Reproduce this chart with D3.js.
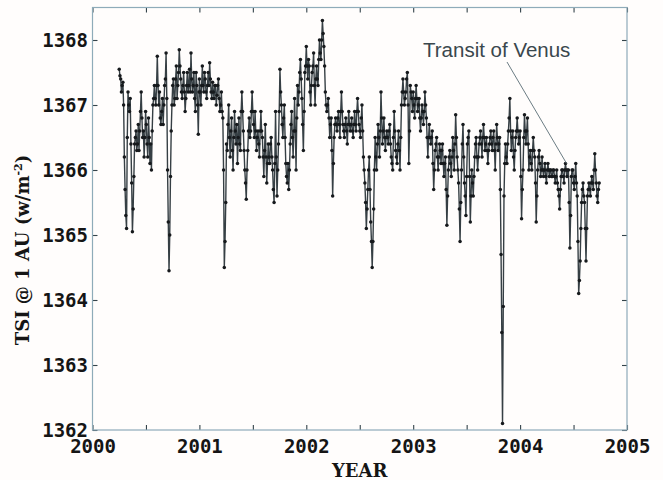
<!DOCTYPE html>
<html><head><meta charset="utf-8">
<script src="https://cdn.jsdelivr.net/npm/d3@7"></script>
<style>
body{margin:0;background:#fffdfc}
svg{display:block}
</style>
</head><body>
<svg id="chart" width="663" height="480"></svg>
<script>
// ---- data (TSI at 1 AU, W/m^2), read every 5 days; "Mid" arrays are readings 2.5 days later ----
const stepDays = 5;
const start2000 = 2000.25;
const tsi2000 = [1367.55,1367.4,1367.3,1367.0,1365.7,1365.1,1367.2,1366.9,1366.4,1365.05,
  1365.9,1366.5,1366.3,1366.7,1366.6,1367.2,1366.5,1366.2,1366.9,1366.4,
  1366.8,1366.1,1366.0,1367.0,1367.3,1367.0,1367.75,1367.0,1366.8,1366.9,
  1366.7,1367.3,1367.8,1366.0,1364.45,1365.9,1367.0,1367.4,1367.1,1367.6,
  1367.3,1367.85,1367.4,1367.1,1367.5,1366.9,1367.3,1367.2,1367.55,1367.8,
  1367.2,1367.5,1366.9,1367.3,1366.55];
const tsi2000Mid = [1367.45,1367.2,1367.35,1366.2,1365.3,1366.5,1367.0,1367.1,1365.8,1365.4,
  1366.4,1366.6,1366.4,1366.3,1366.9,1366.8,1366.6,1366.5,1366.7,1366.2,
  1366.5,1366.4,1366.6,1367.1,1367.1,1367.3,1367.3,1367.2,1366.7,1367.1,
  1367.0,1367.4,1367.1,1365.2,1365.0,1366.6,1367.3,1367.0,1367.4,1367.1,
  1367.5,1367.6,1367.2,1367.3,1367.2,1367.1,1367.5,1367.3,1367.2,1367.4,
  1367.3,1367.1,1367.5,1367.0,1367.2];
const tsi2001 = [1367.4,1367.0,1367.6,1367.2,1367.4,1367.1,1367.5,1367.65,1367.2,1367.35,
  1367.1,1367.3,1367.15,1367.4,1366.9,1367.2,1366.8,1364.5,1365.5,1366.3,
  1367.0,1366.2,1366.8,1366.0,1366.9,1366.4,1366.1,1366.8,1366.3,1367.2,
  1366.6,1366.0,1365.55,1366.3,1366.8,1366.6,1367.2,1366.7,1366.9,1366.3,
  1366.6,1366.2,1366.9,1366.5,1365.9,1366.7,1365.8,1366.4,1366.1,1366.5,
  1366.0,1365.5,1366.9,1365.6,1366.4,1367.55,1367.0,1366.5,1367.0,1366.1,
  1365.8,1365.7,1366.4,1366.9,1366.2,1367.1,1366.0,1367.3,1367.2,1367.7,
  1367.1,1366.3,1367.5];
const tsi2001Mid = [1367.2,1367.3,1367.3,1367.5,1367.2,1367.3,1367.3,1367.4,1367.1,1367.2,
  1367.3,1367.0,1367.3,1367.1,1367.0,1366.9,1366.0,1364.9,1366.4,1366.7,
  1366.5,1366.6,1366.3,1366.5,1366.6,1366.7,1366.5,1366.4,1366.9,1366.9,
  1366.3,1365.8,1366.0,1366.6,1366.5,1366.9,1366.9,1366.5,1366.6,1366.5,
  1366.4,1366.6,1366.6,1366.2,1366.3,1366.2,1366.1,1366.2,1366.4,1366.2,
  1365.7,1366.1,1366.2,1366.0,1366.9,1367.2,1366.7,1366.8,1366.5,1365.9,
  1366.1,1366.0,1366.7,1366.5,1366.6,1366.6,1366.8,1367.0,1367.5,1367.4,
  1366.7,1366.9,1367.6];
const tsi2002 = [1367.9,1367.4,1367.6,1367.0,1367.5,1367.8,1367.0,1367.6,1367.3,1368.0,
  1367.7,1368.3,1367.9,1367.2,1366.9,1367.1,1366.5,1366.8,1365.6,1366.5,
  1366.8,1366.6,1366.9,1366.5,1367.2,1366.7,1366.5,1366.8,1366.4,1366.9,
  1366.6,1366.8,1366.5,1366.9,1366.6,1367.1,1366.7,1366.5,1367.0,1366.2,
  1365.8,1365.1,1365.7,1366.2,1365.2,1364.5,1365.4,1366.5,1366.0,1366.7,
  1366.2,1367.2,1366.4,1366.8,1366.3,1366.6,1366.4,1366.7,1366.2,1366.0,
  1366.9,1366.3,1366.1,1366.6,1366.0,1367.0,1367.4,1367.0,1367.2,1367.5,
  1366.1,1367.3,1367.1];
const tsi2002Mid = [1367.6,1367.7,1367.2,1367.3,1367.6,1367.3,1367.4,1367.4,1367.7,1367.8,
  1368.0,1368.1,1367.6,1367.0,1367.0,1366.8,1366.7,1366.3,1366.1,1366.7,
  1366.7,1366.8,1366.7,1366.9,1366.9,1366.6,1366.7,1366.6,1366.7,1366.7,
  1366.7,1366.6,1366.7,1366.7,1366.9,1366.9,1366.6,1366.8,1366.6,1366.0,
  1365.5,1365.4,1366.0,1365.7,1364.9,1364.9,1366.0,1366.2,1366.4,1366.5,
  1366.6,1366.8,1366.6,1366.5,1366.5,1366.5,1366.6,1366.4,1366.1,1366.5,
  1366.6,1366.2,1366.4,1366.3,1366.5,1367.2,1367.2,1367.1,1367.4,1367.0,
  1366.6,1367.2,1366.9];
const tsi2003 = [1367.2,1366.8,1367.3,1366.9,1367.1,1366.6,1367.0,1366.7,1367.2,1366.8,
  1366.2,1366.7,1366.4,1366.6,1365.7,1366.3,1366.5,1366.0,1366.4,1366.1,
  1366.4,1365.9,1366.2,1365.15,1366.0,1366.3,1365.9,1366.5,1366.0,1366.85,
  1366.2,1365.8,1364.9,1366.0,1366.7,1365.8,1365.3,1366.4,1366.6,1365.2,
  1366.0,1365.6,1366.2,1366.5,1366.0,1366.4,1366.6,1366.2,1366.7,1366.3,
  1366.5,1366.1,1366.4,1366.6,1366.3,1366.6,1366.0,1366.7,1366.3,1366.5,
  1364.7,1362.1,1365.6,1366.4,1366.1,1366.6,1367.1,1366.3,1366.6,1366.0,
  1366.5,1366.8,1366.4];
const tsi2003Mid = [1367.0,1367.1,1367.1,1367.0,1366.8,1366.8,1366.9,1366.9,1367.0,1366.5,
  1366.5,1366.5,1366.5,1366.1,1366.0,1366.4,1366.2,1366.2,1366.3,1366.3,
  1366.1,1366.1,1365.7,1365.6,1366.2,1366.1,1366.2,1366.3,1366.4,1366.5,
  1366.0,1365.4,1365.5,1366.4,1366.2,1365.6,1365.9,1366.5,1365.9,1365.6,
  1365.8,1365.9,1366.4,1366.2,1366.2,1366.5,1366.4,1366.5,1366.5,1366.4,
  1366.3,1366.3,1366.5,1366.4,1366.5,1366.3,1366.4,1366.5,1366.4,1365.7,
  1363.5,1363.9,1366.1,1366.2,1366.4,1366.8,1366.6,1366.5,1366.2,1366.3,
  1366.6,1366.6,1366.5];
const tsi2004 = [1366.6,1365.25,1366.0,1366.85,1366.4,1366.8,1366.0,1366.3,1366.0,1366.5,
  1366.2,1365.2,1366.0,1366.3,1365.9,1366.2,1365.9,1366.1,1365.8,1366.1,
  1365.9,1366.0,1365.9,1366.0,1365.8,1366.0,1365.7,1365.4,1365.9,1366.0,
  1365.8,1366.1,1365.9,1366.0,1364.8,1365.9,1366.0,1365.7,1366.1,1365.6,
  1364.1,1364.6,1365.5,1365.8,1365.5,1364.6,1365.6,1365.8,1365.6,1365.9,
  1365.7,1366.25,1365.8,1365.5,1365.8];
const tsi2004Mid = [1365.9,1365.7,1366.5,1366.6,1366.6,1366.4,1366.2,1366.1,1366.3,1366.3,
  1365.8,1365.6,1366.2,1366.1,1366.0,1366.0,1366.0,1365.9,1366.0,1366.0,
  1366.0,1365.9,1366.0,1365.9,1365.9,1365.8,1365.6,1365.7,1366.0,1365.9,
  1366.0,1366.0,1366.0,1365.5,1365.3,1366.0,1365.8,1365.9,1365.8,1364.9,
  1364.3,1365.1,1365.7,1365.6,1365.1,1365.1,1365.7,1365.7,1365.8,1365.8,
  1366.0,1366.0,1365.6,1365.7];

const yearStarts = [start2000, 2001, 2002, 2003, 2004];
const yearSeries = [tsi2000, tsi2001, tsi2002, tsi2003, tsi2004];
const yearSeriesMid = [tsi2000Mid, tsi2001Mid, tsi2002Mid, tsi2003Mid, tsi2004Mid];

const xMajorTicks = [2000, 2001, 2002, 2003, 2004, 2005];
const xMinorTicks = [2000.5, 2001.5, 2002.5, 2003.5, 2004.5];
const yTicks = [1362, 1363, 1364, 1365, 1366, 1367, 1368];
const annotationLabel = "Transit of Venus";
const transitYear = 2004.435;
const transitValue = 1366.1;

// ---- build point table ----
const points = [];
yearSeries.forEach((arr, i) => {
  arr.forEach((v, k) => points.push({t: yearStarts[i] + k * stepDays / 365, v}));
  yearSeriesMid[i].forEach((v, k) => points.push({t: yearStarts[i] + (k + 0.5) * stepDays / 365, v}));
});
points.sort((a, b) => a.t - b.t);

const svg = d3.select("#chart");
const W = 663, H = 480;
svg.append("rect").attr("width", W).attr("height", H).attr("fill", "#fffdfc");

const x = d3.scaleLinear().domain([2000, 2005]).range([92.5, 627]);
const y = d3.scaleLinear().domain([1362, 1368.5]).range([430, 7.5]);

const frameColor = "#8eabb9";
const tickColor = "#34434a";
const labelFont = "'DejaVu Sans Mono', monospace";

const allX = xMajorTicks.concat(xMinorTicks).sort((a, b) => a - b);

function styleAxis(g) {
  g.select(".domain").remove();
  g.selectAll(".tick line").attr("stroke", tickColor).attr("stroke-width", 1.1);
  g.selectAll(".tick text")
    .attr("fill", "#151515")
    .style("font-family", labelFont)
    .style("font-weight", "bold")
    .style("font-size", "19px");
}

// bottom
svg.append("g").attr("transform", `translate(0,${y.range()[0]})`)
  .call(d3.axisBottom(x).tickValues(allX).tickSize(-5).tickPadding(10)
    .tickFormat(d => Number.isInteger(d) ? String(d) : ""))
  .call(styleAxis);
// top
svg.append("g").attr("transform", `translate(0,${y.range()[1]})`)
  .call(d3.axisTop(x).tickValues(allX).tickSize(-5).tickFormat(""))
  .call(styleAxis);
// left
svg.append("g").attr("transform", `translate(${x.range()[0]},0)`)
  .call(d3.axisLeft(y).tickValues(yTicks).tickSize(-5).tickPadding(4.5).tickFormat(d3.format("d")))
  .call(styleAxis);
// right
svg.append("g").attr("transform", `translate(${x.range()[1]},0)`)
  .call(d3.axisRight(y).tickValues(yTicks).tickSize(-5).tickFormat(""))
  .call(styleAxis);

// frame
svg.append("rect")
  .attr("x", x.range()[0]).attr("y", y.range()[1])
  .attr("width", x.range()[1] - x.range()[0])
  .attr("height", y.range()[0] - y.range()[1])
  .attr("fill", "none").attr("stroke", frameColor).attr("stroke-width", 1.2);

// series line
const line = d3.line().x(d => x(d.t)).y(d => y(d.v));
svg.append("path").datum(points)
  .attr("d", line)
  .attr("fill", "none")
  .attr("stroke", "#363f44")
  .attr("stroke-width", 1.4)
  .attr("stroke-linejoin", "round");

// markers
svg.append("g").selectAll("circle").data(points).join("circle")
  .attr("cx", d => x(d.t)).attr("cy", d => y(d.v))
  .attr("r", 1.75).attr("fill", "#16191c");

// annotation
svg.append("line")
  .attr("x1", 507).attr("y1", 62)
  .attr("x2", x(transitYear)).attr("y2", y(transitValue))
  .attr("stroke", "#6b7c83").attr("stroke-width", 1);
svg.append("text")
  .attr("x", 423).attr("y", 57)
  .attr("fill", "#3a474d")
  .style("font-family", "'Liberation Sans', Arial, sans-serif")
  .style("font-size", "20.5px")
  .text(annotationLabel);

// axis titles
const titleFont = "'DejaVu Serif', serif";
svg.append("text")
  .attr("transform", "translate(29,250) rotate(-90)")
  .attr("text-anchor", "middle")
  .attr("fill", "#151515")
  .style("font-family", titleFont).style("font-weight", "bold").style("font-size", "18px")
  .call(t => {
    t.append("tspan").text("TSI @ 1 AU (w/m");
    t.append("tspan").attr("dy", -7).style("font-size", "11px").text("-2");
    t.append("tspan").attr("dy", 7).text(")");
  });
svg.append("text")
  .attr("x", (x.range()[0] + x.range()[1]) / 2).attr("y", 477)
  .attr("text-anchor", "middle")
  .attr("fill", "#151515")
  .style("font-family", titleFont).style("font-weight", "bold").style("font-size", "18px")
  .text("YEAR");
</script>
</body></html>
